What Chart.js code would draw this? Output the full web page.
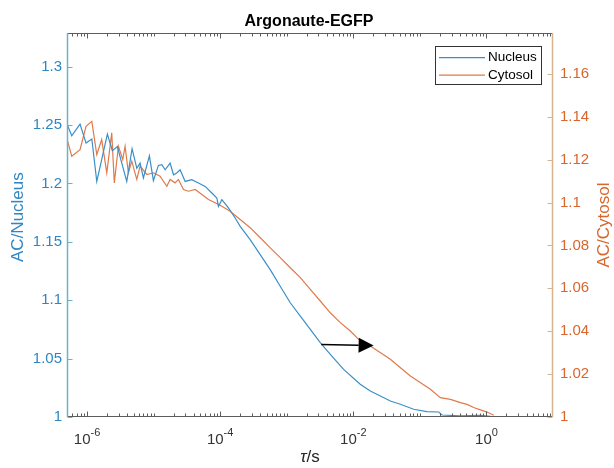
<!DOCTYPE html>
<html>
<head>
<meta charset="utf-8">
<script src="https://cdn.jsdelivr.net/npm/chart.js@4.4.1/dist/chart.umd.min.js"></script>
<style>
  html, body { margin: 0; padding: 0; background: #fff; }
  #wrap { width: 614px; height: 468px; }
</style>
</head>
<body>
<div id="wrap"><canvas id="acChart"></canvas></div>
<script>
// lag times (s) and autocorrelation
const tauNucleus = [4.95e-7, 5.89e-7, 7.85e-7, 9.66e-7, 1.18e-6, 1.40e-6, 1.66e-6, 2.02e-6, 2.40e-6, 2.86e-6,
  3.13e-6, 3.95e-6, 4.75e-6, 5.59e-6, 6.26e-6, 7.03e-6, 8.65e-6, 9.93e-6, 1.18e-5, 1.33e-5,
  1.49e-5, 1.77e-5, 1.99e-5, 2.23e-5, 2.50e-5, 2.98e-5, 3.75e-5, 4.72e-5, 5.94e-5, 7.50e-5,
  8.91e-5, 9.42e-5, 1.06e-4, 1.33e-4, 1.68e-4, 2.00e-4, 2.82e-4, 3.56e-4, 4.48e-4, 5.65e-4,
  7.98e-4, 1.13e-3, 1.60e-3, 2.26e-3, 3.19e-3, 4.51e-3, 7.15e-3, 1.27e-2, 1.80e-2, 2.55e-2,
  3.60e-2, 5.09e-2, 8.07e-2, 0.128, 0.192, 0.216, 0.406, 0.812, 1.15];
const acNucleus = [1.2516, 1.2408, 1.2508, 1.2345, 1.238, 1.2017, 1.2203, 1.2422, 1.228, 1.2316,
  1.223, 1.2017, 1.2297, 1.213, 1.2174, 1.2046, 1.2236, 1.2023, 1.2154, 1.216,
  1.2117, 1.2174, 1.2074, 1.2089, 1.2117, 1.2017, 1.2032, 1.2003, 1.1974, 1.1918,
  1.1875, 1.1803, 1.1861, 1.179, 1.1704, 1.1632, 1.1519, 1.1433, 1.1348, 1.1262,
  1.112, 1.0978, 1.0863, 1.075, 1.0636, 1.0536, 1.0408, 1.028, 1.0222, 1.018,
  1.0137, 1.0109, 1.0066, 1.0046, 1.0043, 1.0017, 1.0009, 1.0015, 1.0006];

const tauCytosol = [4.95e-7, 5.89e-7, 7.85e-7, 9.66e-7, 1.18e-6, 1.40e-6, 1.66e-6, 1.98e-6, 2.35e-6, 2.57e-6,
  2.96e-6, 3.44e-6, 3.73e-6, 4.18e-6, 4.70e-6, 5.59e-6, 6.26e-6, 7.91e-6, 9.93e-6, 1.25e-5,
  1.58e-5, 1.77e-5, 2.10e-5, 2.36e-5, 2.81e-5, 3.34e-5, 4.21e-5, 5.31e-5, 6.67e-5, 8.41e-5,
  1.06e-4, 1.41e-4, 2.00e-4, 2.82e-4, 4.00e-4, 5.65e-4, 7.98e-4, 1.13e-3, 1.60e-3, 2.26e-3,
  3.19e-3, 4.51e-3, 6.38e-3, 9.02e-3, 1.20e-2, 1.80e-2, 3.60e-2, 7.19e-2, 0.144, 0.203,
  0.288, 0.406, 0.513, 0.644, 0.812, 1.02, 1.29];
const acCytosol = [1.1302, 1.1216, 1.1247, 1.1356, 1.1379, 1.1224, 1.1294, 1.1139, 1.1325, 1.1092,
  1.1263, 1.1201, 1.1263, 1.1139, 1.1193, 1.1108, 1.117, 1.1131, 1.1139, 1.1123,
  1.1076, 1.1108, 1.1092, 1.1108, 1.1061, 1.1053, 1.1061, 1.1038, 1.1014, 1.0999,
  1.0983, 1.096, 1.0921, 1.0883, 1.0836, 1.0789, 1.0743, 1.0696, 1.065, 1.0595,
  1.0541, 1.0486, 1.044, 1.0401, 1.0362, 1.0331, 1.0269, 1.0191, 1.0129, 1.009,
  1.0082, 1.0067, 1.0059, 1.0044, 1.0033, 1.0023, 1.0008];

// labelled decades on the lag-time axis
const xTickValues = [1e-6, 1e-4, 1e-2, 1];
const xTickExponents = ['-6', '-4', '-2', '0'];

// arrow annotation, in data units of the left axis
const arrowFrom = [3.3e-3, 1.0621];
const arrowTo = [0.0202, 1.0612];

const blue = '#3a8fc8', orange = '#e07a4c';
const blueText = '#2f86c3', orangeText = '#d9662c';
const font = "'Liberation Sans', Arial, sans-serif";

function labelIndex(v) {
    return xTickValues.findIndex(t => Math.abs(Math.log10(v) - Math.log10(t)) < 1e-6);
}

function fmt(v) {
    return String(Number(v.toFixed(3)));
}

// inward ticks and the axis box, MATLAB style
const axisBox = {
    id: 'axisBox',
    afterDatasetsDraw(chart) {
        const {ctx, chartArea: a, scales} = chart;
        const L = Math.round(a.left) + 0.5, R = Math.round(a.right) - 0.5;
        const T = Math.round(a.top) + 0.5, B = Math.round(a.bottom) - 0.5;
        ctx.save();
        ctx.lineWidth = 1;
        ctx.strokeStyle = '#5c5c5c';
        ctx.beginPath();
        ctx.moveTo(L, T); ctx.lineTo(R, T);
        ctx.moveTo(L, B); ctx.lineTo(R, B);
        scales.x.ticks.forEach(t => {
            const px = Math.round(scales.x.getPixelForValue(t.value)) + 0.5;
            if (px < L || px > R) return;
            const len = labelIndex(t.value) >= 0 ? 5 : 3;
            ctx.moveTo(px, B); ctx.lineTo(px, B - len);
            ctx.moveTo(px, T); ctx.lineTo(px, T + len);
        });
        ctx.stroke();

        // x tick labels as 10 with a raised exponent
        ctx.fillStyle = '#333';
        ctx.textBaseline = 'alphabetic';
        ctx.textAlign = 'left';
        xTickValues.forEach((v, i) => {
            const px = scales.x.getPixelForValue(v);
            ctx.font = '15px ' + font;
            const wb = ctx.measureText('10').width;
            ctx.font = '11px ' + font;
            const we = ctx.measureText(xTickExponents[i]).width;
            const sx = px - (wb + we) / 2;
            ctx.font = '15px ' + font;
            ctx.fillText('10', sx, 444);
            ctx.font = '11px ' + font;
            ctx.fillText(xTickExponents[i], sx + wb, 436);
        });

        ctx.strokeStyle = '#6cb2c9';
        ctx.lineWidth = 1.5;
        ctx.beginPath();
        ctx.moveTo(L, T - 0.5); ctx.lineTo(L, B + 0.5);
        ctx.stroke();
        ctx.lineWidth = 1;
        ctx.beginPath();
        scales.yL.ticks.forEach(t => {
            const py = Math.round(scales.yL.getPixelForValue(t.value)) + 0.5;
            ctx.moveTo(L, py); ctx.lineTo(L + 5, py);
        });
        ctx.stroke();

        ctx.strokeStyle = '#d8b48e';
        ctx.lineWidth = 1.5;
        ctx.beginPath();
        ctx.moveTo(R, T - 0.5); ctx.lineTo(R, B + 0.5);
        ctx.stroke();
        ctx.lineWidth = 1;
        ctx.beginPath();
        scales.yR.ticks.forEach(t => {
            const py = Math.round(scales.yR.getPixelForValue(t.value)) + 0.5;
            ctx.moveTo(R, py); ctx.lineTo(R - 5, py);
        });
        ctx.stroke();
        ctx.restore();
    }
};

const annotations = {
    id: 'annotations',
    afterDatasetsDraw(chart) {
        const {ctx, scales, chartArea: a} = chart;
        const x0 = scales.x.getPixelForValue(arrowFrom[0]), y0 = scales.yL.getPixelForValue(arrowFrom[1]);
        const x1 = scales.x.getPixelForValue(arrowTo[0]), y1 = scales.yL.getPixelForValue(arrowTo[1]);
        const ang = Math.atan2(y1 - y0, x1 - x0);
        const head = 15, half = 7.5;
        const bx = x1 - head * Math.cos(ang), by = y1 - head * Math.sin(ang);
        ctx.save();
        ctx.strokeStyle = '#000';
        ctx.fillStyle = '#000';
        ctx.lineWidth = 1.5;
        ctx.beginPath();
        ctx.moveTo(x0, y0); ctx.lineTo(bx, by);
        ctx.stroke();
        ctx.beginPath();
        ctx.moveTo(x1, y1);
        ctx.lineTo(bx + half * Math.sin(ang), by - half * Math.cos(ang));
        ctx.lineTo(bx - half * Math.sin(ang), by + half * Math.cos(ang));
        ctx.closePath();
        ctx.fill();

        // legend box
        const lx = a.right - 118, ly = a.top + 13, lw = 106, lh = 38;
        ctx.fillStyle = '#fff';
        ctx.fillRect(lx, ly, lw, lh);
        ctx.strokeStyle = '#333';
        ctx.lineWidth = 1;
        ctx.strokeRect(Math.round(lx) + 0.5, Math.round(ly) + 0.5, lw, lh);
        ctx.font = '13.5px ' + font;
        ctx.textBaseline = 'middle';
        chart.data.datasets.forEach((ds, i) => {
            const ry = ly + 11.5 + i * 17.5;
            ctx.strokeStyle = ds.borderColor;
            ctx.lineWidth = 1.2;
            ctx.beginPath();
            ctx.moveTo(lx + 4, ry); ctx.lineTo(lx + 50, ry);
            ctx.stroke();
            ctx.fillStyle = '#000';
            ctx.fillText(ds.label, lx + 53, ry);
        });

        // axis titles
        ctx.font = '17px ' + font;
        ctx.textAlign = 'center';
        ctx.fillStyle = blueText;
        ctx.save();
        ctx.translate(18, (a.top + a.bottom) / 2 - 8);
        ctx.rotate(-Math.PI / 2);
        ctx.fillText('AC/Nucleus', 0, 0);
        ctx.restore();
        ctx.fillStyle = orangeText;
        ctx.save();
        ctx.translate(604, (a.top + a.bottom) / 2);
        ctx.rotate(-Math.PI / 2);
        ctx.fillText('AC/Cytosol', 0, 0);
        ctx.restore();

        const cx = (a.left + a.right) / 2;
        ctx.fillStyle = '#262626';
        ctx.textAlign = 'left';
        ctx.font = 'italic 17px ' + font;
        const w1 = ctx.measureText('\u03C4').width;
        ctx.font = '17px ' + font;
        const w2 = ctx.measureText('/s').width;
        const sx = cx - (w1 + w2) / 2;
        ctx.font = 'italic 17px ' + font;
        ctx.fillText('\u03C4', sx, 457);
        ctx.font = '17px ' + font;
        ctx.fillText('/s', sx + w1, 457);
        ctx.restore();
    }
};

new Chart(document.getElementById('acChart'), {
    type: 'line',
    data: {
        datasets: [{
            label: 'Nucleus',
            data: tauNucleus.map((t, i) => ({x: t, y: acNucleus[i]})),
            borderColor: blue,
            borderWidth: 1.2,
            pointRadius: 0,
            tension: 0,
            yAxisID: 'yL'
        }, {
            label: 'Cytosol',
            data: tauCytosol.map((t, i) => ({x: t, y: acCytosol[i]})),
            borderColor: orange,
            borderWidth: 1.2,
            pointRadius: 0,
            tension: 0,
            yAxisID: 'yR'
        }]
    },
    options: {
        responsive: true,
        maintainAspectRatio: false,
        animation: false,
        layout: { padding: { left: 4, right: 0, top: 0, bottom: 0 } },
        plugins: {
            legend: { display: false },
            tooltip: { enabled: false },
            title: {
                display: true,
                text: 'Argonaute-EGFP',
                color: '#000',
                font: { family: font, size: 16, weight: 'bold' },
                padding: { top: 12, bottom: 2 }
            }
        },
        scales: {
            x: {
                type: 'logarithmic',
                position: 'bottom',
                min: 5e-7,
                max: 10,
                grid: { display: false, drawTicks: false },
                border: { display: false },
                afterBuildTicks: s => {
                    const ticks = [];
                    for (let e = -7; e <= 1; e++) {
                        for (let m = 1; m <= 9; m++) {
                            const v = m * Math.pow(10, e);
                            if (v >= s.min * 0.999 && v <= s.max * 1.001) ticks.push({value: v});
                        }
                    }
                    s.ticks = ticks;
                },
                afterFit: s => { s.height = 51; },
                ticks: { display: false, autoSkip: false }
            },
            yL: {
                type: 'linear',
                position: 'left',
                min: 1,
                max: 1.3286,
                grid: { display: false, drawTicks: false },
                border: { display: false },
                afterFit: s => { s.width = 63; },
                ticks: {
                    stepSize: 0.05,
                    includeBounds: false,
                    padding: 5,
                    color: blueText,
                    font: { family: font, size: 15 },
                    callback: v => fmt(v)
                }
            },
            yR: {
                type: 'linear',
                position: 'right',
                min: 1,
                max: 1.179,
                grid: { display: false, drawTicks: false },
                border: { display: false },
                afterFit: s => { s.width = 61; },
                ticks: {
                    stepSize: 0.02,
                    includeBounds: false,
                    padding: 7,
                    color: orangeText,
                    font: { family: font, size: 15 },
                    callback: v => fmt(v)
                }
            }
        }
    },
    plugins: [axisBox, annotations]
});
</script>
</body>
</html>
